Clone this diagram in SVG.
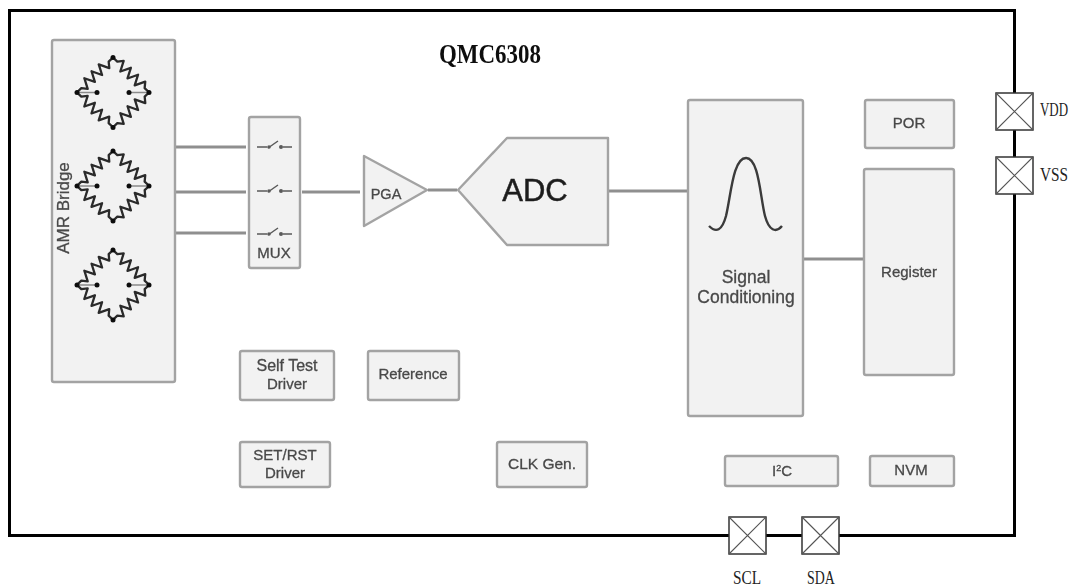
<svg xmlns="http://www.w3.org/2000/svg" xmlns:xlink="http://www.w3.org/1999/xlink" width="1071" height="587" viewBox="0 0 1071 587">
<style>
.box{fill:#f2f2f2;stroke:#a3a3a3;stroke-width:2.4;stroke-linejoin:round;rx:2px}
.wire{fill:none;stroke:#8f8f8f;stroke-width:2.8}
.lbl{font-family:"Liberation Sans",Arial,sans-serif;fill:#484848;text-anchor:middle;font-size:15px;stroke:#484848;stroke-width:.3}
.pad{fill:#fff;stroke:#333;stroke-width:1.5}
.pin{font-family:"Liberation Serif","Times New Roman",serif;fill:#222;font-size:18px}
.res{fill:none;stroke:#2a2a2a;stroke-width:2.3;stroke-linejoin:round}
.lead{fill:none;stroke:#8a8a8a;stroke-width:1.6}
.dot{fill:#111}
.sw{fill:none;stroke:#5a5a5a;stroke-width:1.5}
</style>
<defs>
<filter id="soft" x="-5%" y="-5%" width="110%" height="110%"><feGaussianBlur stdDeviation="0.6"/></filter>
<filter id="faint" x="-5%" y="-5%" width="110%" height="110%"><feGaussianBlur stdDeviation="0.3"/></filter>
<path id="edge" d="M0 0H6L10-5 15 5 20-5 25 5 30-5 35 5 40-5 44 0H50"/>
<g id="bridge">
<use xlink:href="#edge" href="#edge" class="res" transform="translate(0,-35) rotate(44)"/>
<use xlink:href="#edge" href="#edge" class="res" transform="translate(0,-35) rotate(136)"/>
<use xlink:href="#edge" href="#edge" class="res" transform="translate(-36,0) rotate(44)"/>
<use xlink:href="#edge" href="#edge" class="res" transform="translate(36,0) rotate(136)"/>
<path class="lead" d="M-36 0H-16M16 0H36"/>
<circle class="dot" cx="0" cy="-35" r="2.5"/><circle class="dot" cx="0" cy="35" r="2.5"/>
<circle class="dot" cx="-36" cy="0" r="2.5"/><circle class="dot" cx="36" cy="0" r="2.5"/>
<circle class="dot" cx="-16" cy="0" r="2.5"/><circle class="dot" cx="16" cy="0" r="2.5"/>
</g>
<g id="switch">
<path class="sw" d="M0 0H10M11 1 21-6M26 0H35"/>
<circle cx="12" cy="0" r="1.8" fill="#5a5a5a"/><circle cx="24" cy="0" r="2" fill="#5a5a5a"/>
</g>
<g id="padmark">
<rect class="pad" x="0" y="0" width="37" height="37"/>
<path d="M0 0 37 37M37 0 0 37" fill="none" stroke="#555" stroke-width="1.1"/>
</g>
</defs>
<rect width="1071" height="587" fill="#fff"/>
<g id="frame"><rect x="9.5" y="10.5" width="1005" height="525" fill="none" stroke="#000" stroke-width="3"/></g>
<g id="connectors" filter="url(#soft)">
<path class="wire" d="M175 147H246M175 192H246M175 233H246M302 192H360M428 190H457M608 191H688M803 259H864"/>
</g>
<g filter="url(#soft)">
<g id="amr-bridge">
<rect class="box" x="52" y="40" width="123" height="342"/>
<use xlink:href="#bridge" href="#bridge" x="113" y="92.5"/>
<use xlink:href="#bridge" href="#bridge" x="113" y="186"/>
<use xlink:href="#bridge" href="#bridge" x="113" y="285"/>
<text class="lbl" transform="translate(69,208) rotate(-90)" style="font-size:17px">AMR Bridge</text>
</g>
<g id="mux">
<rect class="box" x="249" y="117" width="51" height="151"/>
<use xlink:href="#switch" href="#switch" x="257" y="147"/>
<use xlink:href="#switch" href="#switch" x="257" y="191"/>
<use xlink:href="#switch" href="#switch" x="257" y="234"/>
<text class="lbl" x="274" y="258">MUX</text>
</g>
<g id="pga">
<polygon class="box" points="364,156 364,226 427,190"/>
<text class="lbl" x="386" y="199" style="font-size:14.5px">PGA</text>
</g>
<g id="adc">
<polygon class="box" points="458,190 507,138 608,138 608,245 507,245"/>
<text class="lbl" x="535" y="201" style="font-size:31px;fill:#1f1f1f;stroke:#1f1f1f;stroke-width:.5">ADC</text>
</g>
<g id="signal-conditioning">
<rect class="box" x="688" y="100" width="115" height="316"/>
<path d="M709 226C716 233 722 231 726 216 731 195 733 158 746 158 759 158 760 196 765 216 769 231 776 233 782 226" fill="none" stroke="#3a3a3a" stroke-width="2.4"/>
<text class="lbl" x="746" y="283" style="font-size:17.5px">Signal</text>
<text class="lbl" x="746" y="303" style="font-size:17.5px">Conditioning</text>
</g>
<g id="por"><rect class="box" x="865" y="100" width="89" height="48"/><text class="lbl" x="909" y="128">POR</text></g>
<g id="register"><rect class="box" x="864" y="169" width="90" height="206"/><text class="lbl" x="909" y="277">Register</text></g>
<g id="self-test"><rect class="box" x="240" y="351" width="94" height="49"/><text class="lbl" x="287" y="371" style="font-size:16px">Self Test</text><text class="lbl" x="287" y="389">Driver</text></g>
<g id="reference"><rect class="box" x="368" y="351" width="91" height="49"/><text class="lbl" x="413" y="379">Reference</text></g>
<g id="set-rst"><rect class="box" x="240" y="442" width="90" height="45"/><text class="lbl" x="285" y="460">SET/RST</text><text class="lbl" x="285" y="478">Driver</text></g>
<g id="clk"><rect class="box" x="497" y="442" width="90" height="45"/><text class="lbl" x="542" y="469" style="font-size:15.5px">CLK Gen.</text></g>
<g id="i2c"><rect class="box" x="725" y="456" width="113" height="30"/><text class="lbl" x="782" y="476">I<tspan dy="-5" style="font-size:9px">2</tspan><tspan dy="5">C</tspan></text></g>
<g id="nvm"><rect class="box" x="870" y="456" width="84" height="30"/><text class="lbl" x="911" y="475">NVM</text></g>
</g>
<g id="title" filter="url(#faint)"><text transform="translate(439,63) scale(.82,1)" style="font-family:'Liberation Serif',serif;font-weight:bold;font-size:28px;fill:#111">QMC6308</text></g>
<g id="pad-vdd"><use xlink:href="#padmark" href="#padmark" x="996" y="93"/><text class="pin" transform="translate(1040,116) scale(.72,1)">VDD</text></g>
<g id="pad-vss"><use xlink:href="#padmark" href="#padmark" x="996" y="157"/><text class="pin" transform="translate(1040,181) scale(.85,1)">VSS</text></g>
<g id="pad-scl"><use xlink:href="#padmark" href="#padmark" x="729" y="517"/><text class="pin" transform="translate(733,584) scale(.85,1)">SCL</text></g>
<g id="pad-sda"><use xlink:href="#padmark" href="#padmark" x="802" y="517"/><text class="pin" transform="translate(807,584) scale(.77,1)">SDA</text></g>
</svg>
